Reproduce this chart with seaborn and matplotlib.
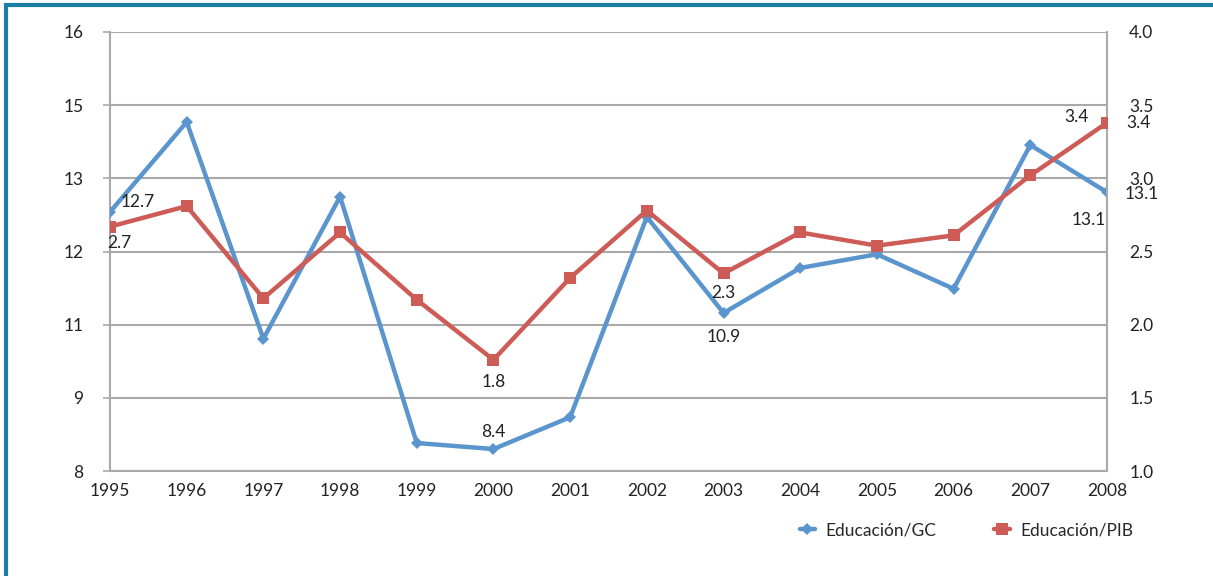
import numpy as np
import pandas as pd
import seaborn as sns
import matplotlib.pyplot as plt
from matplotlib.patches import Rectangle
from matplotlib.lines import Line2D

years = [1995, 1996, 1997, 1998, 1999, 2000, 2001, 2002, 2003, 2004, 2005, 2006, 2007, 2008]
edu_gc = [12.72, 14.36, 10.41, 13.0, 8.51, 8.4, 8.98, 12.63, 10.88, 11.7, 11.95, 11.32, 13.94, 13.08]
edu_pib = [2.67, 2.81, 2.18, 2.63, 2.17, 1.76, 2.32, 2.78, 2.35, 2.63, 2.54, 2.61, 3.02, 3.38]
left_ticks = np.linspace(8, 16, 7)
right_ticks = [1.0, 1.5, 2.0, 2.5, 3.0, 3.5, 4.0]

df = pd.DataFrame({"year": years, "gc": edu_gc, "pib": edu_pib})

blue = "#5b95cd"
red = "#cd5c57"
grid = "#a9a9a9"

sns.set_style("white")
plt.rcParams["font.family"] = ["Lato", "DejaVu Sans"]

fig = plt.figure(figsize=(12.13, 5.76), dpi=100)
ax = fig.add_axes([110 / 1213, 1 - 471 / 576, (1107 - 110) / 1213, (471 - 32) / 576])
ax2 = ax.twinx()

sns.lineplot(data=df, x="year", y="gc", ax=ax, color=blue, linewidth=3.2,
             marker="D", markersize=6, markeredgewidth=0, zorder=3)
sns.lineplot(data=df, x="year", y="pib", ax=ax2, color=red, linewidth=3.2,
             marker="s", markersize=9, markeredgewidth=0, zorder=3)

ax.set_xlim(1995, 2008)
ax.set_ylim(8, 16)
ax2.set_ylim(1, 4)
ax.set_xticks(years)
ax.set_xticklabels([str(y) for y in years])
ax.set_yticks(left_ticks)
ax.set_yticklabels(["%.0f" % v for v in left_ticks])
ax2.set_yticks(right_ticks)
ax2.set_yticklabels(["%.1f" % v for v in right_ticks])
ax.set_xlabel("")
ax.set_ylabel("")
ax2.set_ylabel("")

ax.yaxis.grid(True, color=grid, linewidth=1.5)
ax.set_axisbelow(True)
for a in (ax, ax2):
    for s in a.spines.values():
        s.set_visible(False)
ax.spines["left"].set_visible(True)
ax.spines["bottom"].set_visible(True)
ax2.spines["right"].set_visible(True)
for sp in (ax.spines["left"], ax.spines["bottom"], ax2.spines["right"]):
    sp.set_color(grid)
    sp.set_linewidth(1.5)

ax.tick_params(axis="x", length=5, width=1.2, color=grid, labelsize=12.5, pad=4, labelcolor="#222222")
ax.tick_params(axis="y", length=5, width=1.2, color=grid, labelsize=12.5, pad=14, labelcolor="#222222")
ax2.tick_params(axis="y", length=0, labelsize=12.5, pad=16, labelcolor="#222222")

# data labels
def lab(a, x, y, text, dx, dy):
    a.annotate(text, (x, y), xytext=(dx, dy), textcoords="offset points",
               ha="center", va="center", fontsize=12.5, color="#222222")

lab(ax, 1995, edu_gc[0], "12.7", 20, 7)
lab(ax2, 1995, edu_pib[0], "2.7", 7, -12)
lab(ax2, 2000, edu_pib[5], "1.8", 0, -16)
lab(ax, 2000, edu_gc[5], "8.4", 0, 12)
lab(ax, 2003, edu_gc[8], "10.9", 0, -17)
lab(ax2, 2003, edu_pib[8], "2.3", 0, -14)
lab(ax2, 2008, edu_pib[13], "3.4", -22, 4)
lab(ax2, 2008, edu_pib[13], "3.4", 23, 0)
lab(ax, 2008, edu_gc[13], "13.1", 25, -1)
lab(ax, 2008, edu_gc[13], "13.1", -13, -20)

handles = [
    Line2D([], [], color=blue, linewidth=3.2, marker="D", markersize=6, markeredgewidth=0),
    Line2D([], [], color=red, linewidth=3.2, marker="s", markersize=9, markeredgewidth=0),
]
fig.legend(handles, ["Educación/GC", "Educación/PIB"], loc="center left",
           bbox_to_anchor=(784 / 1213, 1 - 530 / 576), ncol=2, frameon=False,
           fontsize=12.5, handlelength=0.9, columnspacing=3.3, handletextpad=0.6)

fig.patches.append(Rectangle((6 / 1213, -0.1), 1.2, 1 - 5 / 576 + 0.1,
                             transform=fig.transFigure, fill=False,
                             edgecolor="#1b7ea6", linewidth=3))

fig.savefig("out.png", dpi=100)
